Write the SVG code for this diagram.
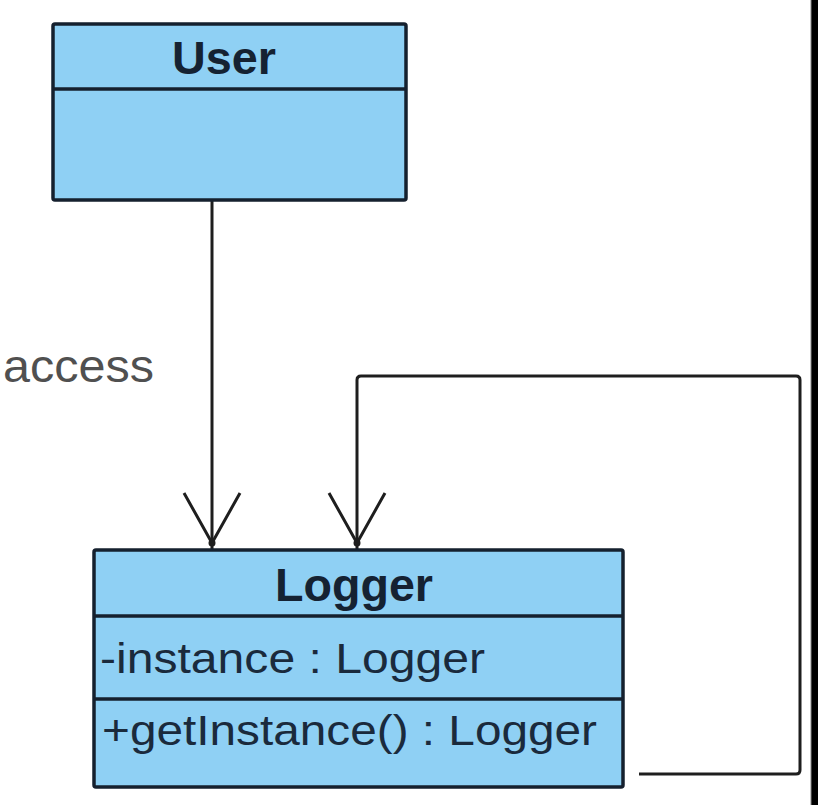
<svg xmlns="http://www.w3.org/2000/svg" width="818" height="805" viewBox="0 0 818 805">
<style>
.box{fill:#8fd0f4;stroke:#15202e;stroke-width:3.5}
.div{stroke:#15202e;stroke-width:3.5}
.title{font-family:"Liberation Sans",Arial,sans-serif;font-weight:bold;font-size:46px;fill:#152232}
.mem{font-family:"Liberation Sans",Arial,sans-serif;font-size:42px;fill:#1a2a3c}
.lbl{font-family:"Liberation Sans",Arial,sans-serif;font-size:46px;fill:#505050}
.edge{fill:none;stroke:#1e1e1e;stroke-width:3;stroke-linejoin:round}
</style>
<rect width="818" height="805" fill="#ffffff"/>
<g id="connectors">
  <g id="access">
    <line class="edge" x1="212" y1="201" x2="212" y2="549"/>
    <polyline class="edge" points="184,493 212,543 240,493"/>
    <circle cx="212" cy="543" r="3.5" fill="#1e1e1e"/>
    <text class="lbl" x="3" y="382" textLength="151" lengthAdjust="spacingAndGlyphs">access</text>
  </g>
  <g id="self">
    <path class="edge" d="M639,774 H796 Q800,774 800,770 V380 Q800,376 796,376 H361 Q357,376 357,380 V549"/>
    <polyline class="edge" points="329,493 357,543 385,493"/>
    <circle cx="357" cy="543" r="3.5" fill="#1e1e1e"/>
  </g>
</g>
<g id="User">
  <rect class="box" x="53" y="24" width="353" height="176" rx="2"/>
  <line class="div" x1="53" y1="89" x2="406" y2="89"/>
  <text class="title" x="172" y="74" textLength="104" lengthAdjust="spacingAndGlyphs">User</text>
</g>
<g id="Logger">
  <rect class="box" x="94" y="550" width="529" height="237" rx="2"/>
  <line class="div" x1="94" y1="616" x2="623" y2="616"/>
  <line class="div" x1="94" y1="699" x2="623" y2="699"/>
  <text class="title" x="275" y="601" textLength="158" lengthAdjust="spacingAndGlyphs">Logger</text>
  <text class="mem" x="100" y="673" textLength="385" lengthAdjust="spacingAndGlyphs">-instance : Logger</text>
  <text class="mem" x="102" y="745" textLength="495" lengthAdjust="spacingAndGlyphs">+getInstance() : Logger</text>
</g>
<rect x="811" y="0" width="7" height="805" fill="#000000"/>
<line x1="811" y1="0" x2="811" y2="805" stroke="#888888" stroke-width="1"/>
</svg>
